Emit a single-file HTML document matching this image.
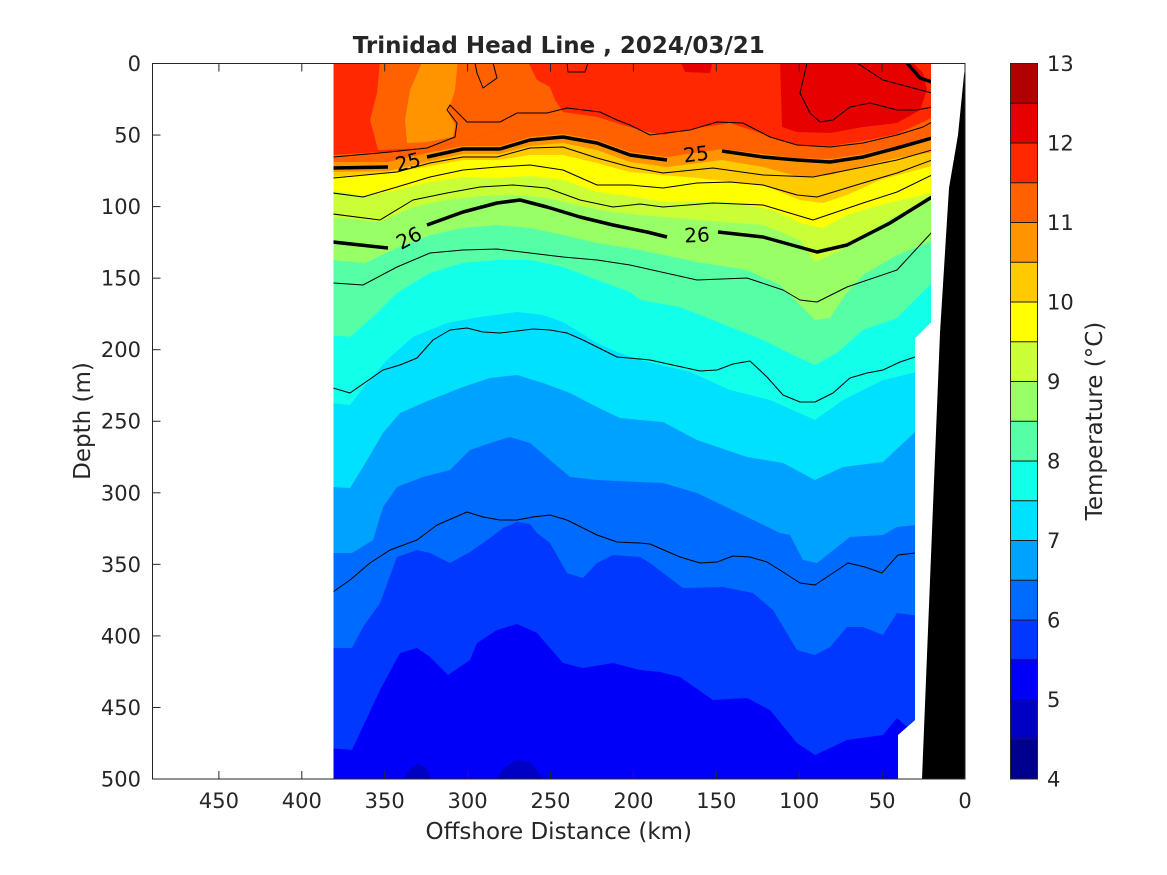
<!DOCTYPE html>
<html>
<head>
<meta charset="utf-8">
<style>
html,body{margin:0;padding:0;background:#fff;}
svg{display:block;}
text{font-family:"DejaVu Sans","Liberation Sans",sans-serif;fill:#262626;}
</style>
</head>
<body>
<svg width="1167" height="875" viewBox="0 0 1167 875" xmlns="http://www.w3.org/2000/svg">
<rect x="0" y="0" width="1167" height="875" fill="#ffffff"/>
<defs>
<clipPath id="d"><polygon points="333.5,63.5 931,63.5 931,322 915,338 915,720 898,735 898,779 333.5,779"/></clipPath>
</defs>

<g clip-path="url(#d)">
<!-- base b3 -->
<rect x="330" y="60" width="610" height="725" fill="#0000FA"/>
<!-- b2 patches -->
<path d="M403,780 L410,769 L418,763 L426,768 L432,780 Z" fill="#0000C4"/>
<path d="M495,780 L505,767 L517,760 L531,763 L545,780 Z" fill="#0000C4"/>
<!-- b4 -->
<path fill="#0038FF" d="M330,60 L330,748 L352,750 L380,690 L400,653 L417,648 L430,657 L448,675 L470,660 L477,643 L497,630 L517,624 L537,633 L563,663 L583,668 L613,663 L640,670 L660,672 L680,677 L713,700 L747,698 L770,710 L797,743 L815,755 L847,740 L883,735 L897,718 L907,727 L935,722 L935,60 Z"/>
<!-- b5 -->
<path fill="#006CFF" d="M330,60 L330,648 L352,648 L363,627 L380,603 L397,557 L417,550 L430,553 L450,563 L470,552 L490,538 L503,528 L517,522 L530,524 L537,533 L550,543 L567,573 L583,578 L597,563 L613,555 L640,557 L650,563 L683,588 L723,587 L753,593 L773,610 L797,650 L815,655 L830,647 L847,627 L863,627 L883,635 L897,613 L935,618 L935,60 Z"/>
<!-- b6 -->
<path fill="#00A2FF" d="M330,60 L330,553 L352,553 L365,545 L373,540 L383,507 L397,487 L423,477 L450,470 L470,450 L490,443 L510,437 L530,443 L550,460 L570,477 L597,480 L640,482 L663,483 L697,493 L747,517 L780,533 L790,535 L803,560 L817,563 L850,537 L883,535 L897,527 L935,523 L935,60 Z"/>
<!-- b7 -->
<path fill="#00E0FF" d="M330,60 L330,487 L350,488 L363,467 L383,433 L400,413 L430,400 L463,387 L490,378 L517,375 L543,383 L570,393 L597,407 L620,418 L640,420 L663,422 L697,440 L747,457 L783,463 L815,480 L843,467 L883,462 L915,432 L935,428 L935,60 Z"/>
<!-- b8 -->
<path fill="#12FFEA" d="M330,60 L330,403 L350,405 L367,383 L387,360 L413,337 L447,323 L480,317 L517,312 L543,315 L563,322 L597,343 L617,352 L640,360 L690,372 L730,390 L770,400 L815,420 L843,400 L883,380 L935,368 L935,60 Z"/>
<!-- b9 -->
<path fill="#56FFA6" d="M330,60 L330,335 L350,337 L373,317 L380,310 L397,293 L430,273 L463,263 L497,260 L530,260 L563,267 L597,280 L630,292 L640,300 L680,307 L730,327 L763,340 L797,357 L815,365 L837,353 L863,330 L897,318 L915,300 L935,280 L935,60 Z"/>
<!-- b10 -->
<path fill="#98FF66" d="M330,60 L330,260 L365,263 L397,248 L430,235 L463,228 L497,225 L530,228 L563,235 L597,243 L640,250 L697,262 L747,270 L780,285 L800,305 L815,320 L830,318 L845,295 L863,275 L897,255 L935,240 L935,60 Z"/>
<!-- b11 -->
<path fill="#CAFF38" d="M330,60 L330,217 L380,222 L413,207 L447,200 L480,196 L513,195 L547,198 L580,206 L613,212 L640,215 L697,220 L763,225 L800,240 L815,262 L837,252 L863,235 L897,215 L935,198 L935,60 Z"/>
<!-- b12 -->
<path fill="#FFFF00" d="M330,60 L330,190 L363,196 L397,190 L430,182 L463,177 L497,178 L530,176 L563,180 L597,192 L630,196 L663,202 L730,202 L773,210 L800,223 L823,228 L847,215 L880,205 L935,192 L935,60 Z"/>
<!-- b13 -->
<path fill="#FFCA00" d="M330,60 L330,177 L397,172 L430,166 L463,160 L497,160 L530,155 L563,155 L597,163 L630,172 L697,178 L763,185 L800,200 L823,203 L847,195 L880,180 L935,165 L935,60 Z"/>
<!-- b14 -->
<path fill="#FF9400" d="M330,60 L330,172 L388,171 L427,162 L463,154 L500,154 L530,146 L563,143 L597,150 L630,162 L667,167 L722,160 L763,167 L800,177 L830,175 L863,166 L897,158 L935,152 L935,60 Z"/>
<!-- b15 -->
<path fill="#FF6000" d="M330,60 L330,162 L388,162 L427,153 L463,146 L500,146 L530,137 L563,134 L597,140 L630,152 L667,157 L722,149 L763,154 L797,158 L830,159 L863,154 L897,146 L935,135 L935,60 Z"/>
<!-- b16 -->
<path fill="#FF2800" d="M330,60 L330,155 L383,152 L430,148 L470,140 L510,125 L540,112 L563,112 L597,117 L623,125 L640,130 L663,135 L697,128 L730,123 L763,134 L797,145 L830,146 L863,141 L897,134 L923,122 L935,116 L935,60 Z"/>
<!-- top overlays -->
<path fill="#FF6000" d="M380,60 L377,93 L370,120 L378,150 L430,148 L470,140 L510,125 L540,115 L563,112 L555,100 L550,87 L537,80 L527,60 Z"/>
<path fill="#FF9400" d="M423,60 L410,90 L405,120 L407,143 L427,142 L453,137 L455,125 L448,112 L455,90 L458,60 Z"/>
<path fill="#E60000" d="M780,60 L782,127 L797,132 L830,133 L863,127 L897,123 L920,110 L927,90 L923,73 L910,60 Z"/>
<path fill="#E60000" d="M680,60 L685,72 L710,73 L713,60 Z"/>

<!-- thin contour lines -->
<g fill="none" stroke="#000" stroke-width="1" stroke-linejoin="round">
<polyline points="333,157 390,152 427,148 455,137 457,123 447,110 450,105 467,122 500,122 517,113 547,113 567,108 600,112 617,120 630,125 650,135 690,130 717,122 743,123 770,137 797,145 830,147 863,143 897,135 923,127 932,122"/>
<polyline points="475,63 477,73 483,88 497,78 493,63"/>
<polyline points="567,63 568,72 585,72 588,63"/>
<polyline points="807,63 800,93 810,113 820,122 833,120 850,107 870,103 897,110 917,110 932,107"/>
<polyline points="857,63 883,80 913,88 932,93"/>
<polyline points="333,178 397,172 430,163 463,157 497,157 530,148 563,147 597,158 630,167 663,173 713,168 763,175 813,177 863,167 897,160 932,150"/>
<polyline points="333,193 363,197 397,187 430,177 463,170 497,167 530,165 563,170 597,185 630,185 663,188 697,183 730,182 763,185 797,195 817,197 863,183 897,173 932,160"/>
<polyline points="333,214 380,220 413,200 447,193 480,187 513,185 547,188 580,200 613,207 640,204 663,207 713,203 763,205 813,220 863,203 897,192 932,175"/>
<polyline points="333,283 363,285 397,267 430,253 463,250 497,249 530,253 563,257 597,260 630,265 697,280 747,278 783,290 800,300 817,302 847,287 897,270 932,232"/>
<polyline points="333,388 350,393 383,370 400,365 417,358 433,340 450,330 467,328 483,332 500,333 517,331 533,329 550,330 567,333 583,340 617,357 640,359 650,360 700,371 717,370 733,364 750,361 767,377 783,395 800,402 815,402 833,393 850,378 867,373 883,370 900,362 915,357"/>
<polyline points="333,592 350,580 370,563 390,550 417,540 437,525 467,512 483,517 500,520 517,520 533,517 550,515 567,520 583,528 597,535 617,542 640,543 650,544 680,557 700,563 717,562 733,556 750,557 767,562 783,572 800,583 815,585 830,575 848,563 865,567 882,573 898,555 915,553"/>
</g>
<!-- thick contour lines -->
<g fill="none" stroke="#000" stroke-width="3.5" stroke-linejoin="round">
<polyline points="907,63 920,78 932,82"/>
<polyline points="333,168 388,167"/>
<polyline points="427,157 463,149 500,149 530,140 563,137 597,143 630,155 667,160"/>
<polyline points="722,151 763,157 797,160 830,162 863,157 897,148 932,138"/>
<polyline points="333,242 388,248"/>
<polyline points="427,225 463,212 497,203 520,200 547,207 580,217 613,225 647,232 667,237"/>
<polyline points="718,232 763,237 817,252 847,245 890,223 932,197"/>
</g>
</g>

<!-- contour labels -->
<text x="408" y="169" font-size="20" text-anchor="middle" transform="rotate(-14 408 162)" style="fill:#000">25</text>
<text x="696" y="161" font-size="20" text-anchor="middle" transform="rotate(-7 696 154)" style="fill:#000">25</text>
<text x="409" y="245" font-size="20" text-anchor="middle" transform="rotate(-28 409 238)" style="fill:#000">26</text>
<text x="697" y="242" font-size="20" text-anchor="middle" transform="rotate(-3 697 235)" style="fill:#000">26</text>

<!-- bathymetry -->
<polygon points="965,68 965,779 922,779 940,333 949,188 958,135 964,75" fill="#000"/>

<!-- axes box -->
<rect x="152.5" y="63.5" width="812.5" height="715.5" fill="none" stroke="#262626" stroke-width="1"/>
<g stroke="#262626" stroke-width="1">
<!-- x ticks bottom -->
<line x1="965" y1="779" x2="965" y2="771"/>
<line x1="882.1" y1="779" x2="882.1" y2="771"/>
<line x1="799.2" y1="779" x2="799.2" y2="771"/>
<line x1="716.3" y1="779" x2="716.3" y2="771"/>
<line x1="633.4" y1="779" x2="633.4" y2="771"/>
<line x1="550.5" y1="779" x2="550.5" y2="771"/>
<line x1="467.6" y1="779" x2="467.6" y2="771"/>
<line x1="384.7" y1="779" x2="384.7" y2="771"/>
<line x1="301.8" y1="779" x2="301.8" y2="771"/>
<line x1="218.9" y1="779" x2="218.9" y2="771"/>
<!-- x ticks top -->
<line x1="882.1" y1="63.5" x2="882.1" y2="71.5"/>
<line x1="799.2" y1="63.5" x2="799.2" y2="71.5"/>
<line x1="716.3" y1="63.5" x2="716.3" y2="71.5"/>
<line x1="633.4" y1="63.5" x2="633.4" y2="71.5"/>
<line x1="550.5" y1="63.5" x2="550.5" y2="71.5"/>
<line x1="467.6" y1="63.5" x2="467.6" y2="71.5"/>
<line x1="384.7" y1="63.5" x2="384.7" y2="71.5"/>
<line x1="301.8" y1="63.5" x2="301.8" y2="71.5"/>
<line x1="218.9" y1="63.5" x2="218.9" y2="71.5"/>
<!-- y ticks left -->
<line x1="152.5" y1="135.05" x2="160.5" y2="135.05"/>
<line x1="152.5" y1="206.6" x2="160.5" y2="206.6"/>
<line x1="152.5" y1="278.15" x2="160.5" y2="278.15"/>
<line x1="152.5" y1="349.7" x2="160.5" y2="349.7"/>
<line x1="152.5" y1="421.25" x2="160.5" y2="421.25"/>
<line x1="152.5" y1="492.8" x2="160.5" y2="492.8"/>
<line x1="152.5" y1="564.35" x2="160.5" y2="564.35"/>
<line x1="152.5" y1="635.9" x2="160.5" y2="635.9"/>
<line x1="152.5" y1="707.45" x2="160.5" y2="707.45"/>
</g>

<!-- y tick labels -->
<g font-size="21" text-anchor="end">
<text x="141" y="71">0</text>
<text x="141" y="142.5">50</text>
<text x="141" y="214">100</text>
<text x="141" y="285.6">150</text>
<text x="141" y="357.2">200</text>
<text x="141" y="428.7">250</text>
<text x="141" y="500.3">300</text>
<text x="141" y="571.8">350</text>
<text x="141" y="643.4">400</text>
<text x="141" y="714.9">450</text>
<text x="141" y="786.5">500</text>
</g>
<!-- x tick labels -->
<g font-size="21" text-anchor="middle">
<text x="965" y="808">0</text>
<text x="882.1" y="808">50</text>
<text x="799.2" y="808">100</text>
<text x="716.3" y="808">150</text>
<text x="633.4" y="808">200</text>
<text x="550.5" y="808">250</text>
<text x="467.6" y="808">300</text>
<text x="384.7" y="808">350</text>
<text x="301.8" y="808">400</text>
<text x="218.9" y="808">450</text>
</g>

<!-- axis labels and title -->
<text x="558.75" y="839" font-size="23" text-anchor="middle">Offshore Distance (km)</text>
<text x="90" y="421" font-size="23" text-anchor="middle" transform="rotate(-90 90 421)">Depth (m)</text>
<text x="558.75" y="53" font-size="23" font-weight="bold" text-anchor="middle">Trinidad Head Line , 2024/03/21</text>

<!-- colorbar -->
<g>
<rect x="1010.5" y="63.5" width="27" height="39.75" fill="#B00000"/>
<rect x="1010.5" y="103.25" width="27" height="39.75" fill="#E60000"/>
<rect x="1010.5" y="143" width="27" height="39.75" fill="#FF2800"/>
<rect x="1010.5" y="182.75" width="27" height="39.75" fill="#FF6000"/>
<rect x="1010.5" y="222.5" width="27" height="39.75" fill="#FF9400"/>
<rect x="1010.5" y="262.25" width="27" height="39.75" fill="#FFCA00"/>
<rect x="1010.5" y="302" width="27" height="39.75" fill="#FFFF00"/>
<rect x="1010.5" y="341.75" width="27" height="39.75" fill="#CAFF38"/>
<rect x="1010.5" y="381.5" width="27" height="39.75" fill="#98FF66"/>
<rect x="1010.5" y="421.25" width="27" height="39.75" fill="#56FFA6"/>
<rect x="1010.5" y="461" width="27" height="39.75" fill="#12FFEA"/>
<rect x="1010.5" y="500.75" width="27" height="39.75" fill="#00E0FF"/>
<rect x="1010.5" y="540.5" width="27" height="39.75" fill="#00A2FF"/>
<rect x="1010.5" y="580.25" width="27" height="39.75" fill="#006CFF"/>
<rect x="1010.5" y="620" width="27" height="39.75" fill="#0038FF"/>
<rect x="1010.5" y="659.75" width="27" height="39.75" fill="#0000FA"/>
<rect x="1010.5" y="699.5" width="27" height="39.75" fill="#0000C4"/>
<rect x="1010.5" y="739.25" width="27" height="39.75" fill="#00008F"/>
</g>
<g stroke="#1a1a1a" stroke-width="1">
<line x1="1010.5" y1="103.25" x2="1037.5" y2="103.25"/>
<line x1="1010.5" y1="143" x2="1037.5" y2="143"/>
<line x1="1010.5" y1="182.75" x2="1037.5" y2="182.75"/>
<line x1="1010.5" y1="222.5" x2="1037.5" y2="222.5"/>
<line x1="1010.5" y1="262.25" x2="1037.5" y2="262.25"/>
<line x1="1010.5" y1="302" x2="1037.5" y2="302"/>
<line x1="1010.5" y1="341.75" x2="1037.5" y2="341.75"/>
<line x1="1010.5" y1="381.5" x2="1037.5" y2="381.5"/>
<line x1="1010.5" y1="421.25" x2="1037.5" y2="421.25"/>
<line x1="1010.5" y1="461" x2="1037.5" y2="461"/>
<line x1="1010.5" y1="500.75" x2="1037.5" y2="500.75"/>
<line x1="1010.5" y1="540.5" x2="1037.5" y2="540.5"/>
<line x1="1010.5" y1="580.25" x2="1037.5" y2="580.25"/>
<line x1="1010.5" y1="620" x2="1037.5" y2="620"/>
<line x1="1010.5" y1="659.75" x2="1037.5" y2="659.75"/>
<line x1="1010.5" y1="699.5" x2="1037.5" y2="699.5"/>
<line x1="1010.5" y1="739.25" x2="1037.5" y2="739.25"/>
</g>
<rect x="1010.5" y="63.5" width="27" height="715.5" fill="none" stroke="#262626" stroke-width="1"/>
<g font-size="21" text-anchor="start">
<text x="1047" y="71">13</text>
<text x="1047" y="150.5">12</text>
<text x="1047" y="230">11</text>
<text x="1047" y="309.5">10</text>
<text x="1047" y="389">9</text>
<text x="1047" y="468.5">8</text>
<text x="1047" y="548">7</text>
<text x="1047" y="627.5">6</text>
<text x="1047" y="707">5</text>
<text x="1047" y="786.5">4</text>
</g>
<text x="1102" y="421" font-size="23" text-anchor="middle" transform="rotate(-90 1102 421)">Temperature (°C)</text>
</svg>
</body>
</html>
